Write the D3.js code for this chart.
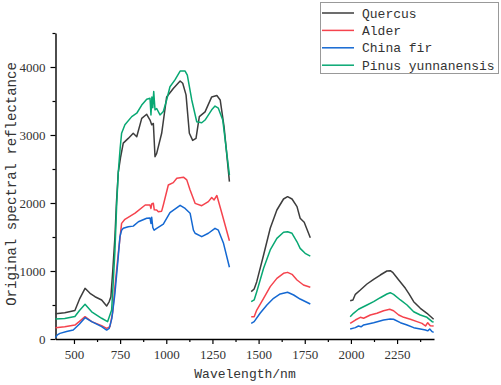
<!DOCTYPE html>
<html>
<head>
<meta charset="utf-8">
<script src="https://cdn.jsdelivr.net/npm/d3@7"></script>
<style>
  body { margin: 0; background: #fff; }
</style>
</head>
<body>
<div id="grafico"></div>
<script>
// series names, in legend order
const especies = ["Quercus", "Alder", "China fir", "Pinus yunnanensis"];

// each series is three segments (water bands removed), [wavelength nm, reflectance]
const quercus = [
  [[400,370],[450,387],[505,420],[532,598],[560,745],[587,672],[614,622],[650,574],[677,485],[691,550],[700,620],[710,1000],[722,1505],[730,2000],[740,2450],[753,2680],[767,2880],[794,2950],[821,3025],[840,2975],[867,3245],[894,3305],[912,3220],[921,3150],[930,3170],[939,2680],[948,2730],[975,3025],[1002,3560],[1038,3685],[1075,3795],[1089,3760],[1107,3590],[1125,3025],[1143,2920],[1161,2950],[1179,3270],[1210,3340],[1246,3560],[1274,3580],[1292,3515],[1313,3120],[1342,2315]],
  [[1460,696],[1476,735],[1490,843],[1527,1235],[1563,1628],[1599,1897],[1635,2059],[1657,2093],[1681,2059],[1708,1946],[1725,1775],[1747,1716],[1780,1490]],
  [[1996,563],[2011,574],[2024,657],[2051,720],[2087,809],[2123,878],[2159,941],[2195,1000],[2213,1005],[2228,975],[2259,868],[2295,745],[2313,672],[2340,549],[2376,451],[2412,378],[2448,290]]
];
const alder = [
  [[400,165],[450,180],[505,205],[530,260],[560,328],[596,255],[650,196],[677,157],[695,181],[710,400],[722,770],[740,1260],[758,1700],[776,1760],[831,1850],[886,1970],[912,1970],[917,1920],[922,1990],[930,1995],[935,1900],[948,1897],[957,1872],[975,1880],[984,1970],[1011,2265],[1038,2300],[1057,2365],[1093,2380],[1111,2340],[1129,2190],[1156,1995],[1192,1960],[1228,2020],[1246,2080],[1259,2045],[1274,2110],[1301,1850],[1342,1445]],
  [[1460,328],[1476,328],[1490,426],[1527,598],[1563,770],[1599,892],[1635,966],[1657,980],[1681,951],[1708,868],[1743,794],[1780,760]],
  [[1996,230],[2024,279],[2051,319],[2069,305],[2105,353],[2141,378],[2177,416],[2210,437],[2231,416],[2259,353],[2286,319],[2322,290],[2358,255],[2385,230],[2404,191],[2416,240],[2430,196],[2448,191]]
];
const chinaFir = [
  [[400,20],[410,60],[424,83],[460,110],[496,132],[530,220],[560,313],[596,255],[650,181],[677,132],[691,157],[705,300],[722,672],[740,1210],[749,1505],[758,1600],[767,1628],[794,1650],[821,1660],[849,1725],[894,1775],[912,1780],[917,1700],[921,1790],[927,1640],[934,1600],[948,1628],[984,1690],[1020,1860],[1075,1965],[1102,1920],[1129,1850],[1147,1600],[1156,1555],[1192,1505],[1228,1555],[1264,1628],[1282,1600],[1310,1407],[1342,1055]],
  [[1460,230],[1476,255],[1508,378],[1545,500],[1581,598],[1617,662],[1657,687],[1690,647],[1725,588],[1780,515]],
  [[1996,147],[2024,167],[2041,191],[2055,180],[2069,206],[2123,240],[2177,279],[2213,294],[2231,290],[2268,240],[2304,206],[2340,167],[2376,147],[2404,132],[2416,120],[2427,147],[2440,108],[2448,98]]
];
const pinus = [
  [[400,294],[450,300],[505,330],[530,420],[560,510],[596,400],[650,305],[682,255],[704,425],[712,800],[722,1300],[731,1950],[740,2450],[750,2800],[758,3025],[776,3150],[813,3270],[840,3320],[867,3440],[894,3525],[912,3540],[917,3295],[922,3560],[927,3400],[932,3640],[939,3370],[948,3390],[966,3295],[984,3345],[1002,3515],[1020,3710],[1047,3810],[1075,3940],[1102,3940],[1114,3880],[1138,3515],[1165,3195],[1192,3180],[1210,3220],[1246,3370],[1264,3425],[1282,3395],[1306,3220],[1342,2410]],
  [[1460,549],[1476,574],[1490,696],[1527,1040],[1563,1310],[1599,1480],[1635,1570],[1657,1578],[1681,1555],[1708,1430],[1725,1333],[1752,1260],[1780,1220]],
  [[1996,328],[2014,378],[2041,437],[2087,500],[2123,549],[2159,607],[2195,662],[2213,681],[2231,657],[2268,574],[2304,500],[2340,401],[2376,353],[2412,319],[2440,255],[2448,250]]
];

const xTicks = [500, 750, 1000, 1250, 1500, 1750, 2000, 2250];
const yTicks = [0, 1000, 2000, 3000, 4000];

const series = [quercus, alder, chinaFir, pinus];
const colores = ["#3d3d3d", "#f5434d", "#1468d2", "#08a873"];

const fuenteTexto = "'Liberation Mono', 'DejaVu Sans Mono', monospace";
const fuenteNum = "'Liberation Serif', 'DejaVu Serif', serif";

const margin = { top: 33, right: 67, bottom: 46, left: 55.5 };
const width = 501 - margin.left - margin.right;
const height = 385 - margin.top - margin.bottom;

const svg = d3.select("#grafico")
    .append("svg")
    .attr("width", 501)
    .attr("height", 385);

const g = svg.append("g")
    .attr("transform", `translate(${margin.left}, ${margin.top})`);

const x = d3.scaleLinear().domain([400, 2450]).range([0, width]);
const y = d3.scaleLinear().domain([0, 4500]).range([height, 0]);

// minor ticks first, then the labelled ones
g.append("g")
    .attr("transform", `translate(0, ${height})`)
    .call(d3.axisBottom(x).tickValues(d3.range(625, 2450, 250)).tickSize(3).tickFormat(""))
    .call(a => a.select(".domain").remove());
g.append("g")
    .call(d3.axisLeft(y).tickValues(d3.range(500, 4600, 1000)).tickSize(3).tickFormat(""))
    .call(a => a.select(".domain").remove());

const ejeX = g.append("g")
    .attr("transform", `translate(0, ${height})`)
    .call(d3.axisBottom(x).tickValues(xTicks).tickFormat(d3.format("d"))
        .tickSize(5).tickSizeOuter(0).tickPadding(6));
const ejeY = g.append("g")
    .call(d3.axisLeft(y).tickValues(yTicks).tickFormat(d3.format("d"))
        .tickSize(5).tickSizeOuter(0).tickPadding(5));

[ejeX, ejeY].forEach(eje => {
    eje.selectAll("text")
        .style("font-family", fuenteNum)
        .style("font-size", "13px")
        .attr("fill", "#333");
    eje.select(".domain").attr("stroke-width", 1.4);
});
g.selectAll(".tick line").attr("stroke-width", 1.2);

const linea = d3.line()
    .x(d => x(d[0]))
    .y(d => y(d[1]));

series.forEach((s, i) => {
    s.forEach(seg => {
        g.append("path")
            .datum(seg)
            .attr("fill", "none")
            .attr("stroke", colores[i])
            .attr("stroke-width", 1.5)
            .attr("stroke-linejoin", "round")
            .attr("d", linea);
    });
});

// axis titles
svg.append("text")
    .attr("x", 245)
    .attr("y", 378)
    .attr("text-anchor", "middle")
    .style("font-family", fuenteTexto)
    .style("font-size", "13px")
    .attr("fill", "#333")
    .text("Wavelength/nm");

svg.append("text")
    .attr("transform", "translate(16, 184) rotate(-90)")
    .attr("text-anchor", "middle")
    .style("font-family", fuenteTexto)
    .style("font-size", "14px")
    .attr("fill", "#333")
    .text("Original spectral reflectance");

// legend
const leyenda = svg.append("g");
leyenda.append("rect")
    .attr("x", 320.5).attr("y", 2.5)
    .attr("width", 178).attr("height", 71)
    .attr("fill", "#fff")
    .attr("stroke", "#999");

especies.forEach((nombre, i) => {
    const yy = 13 + i * 17.4;
    leyenda.append("line")
        .attr("x1", 322).attr("x2", 354)
        .attr("y1", yy).attr("y2", yy)
        .attr("stroke", colores[i])
        .attr("stroke-width", 1.5);
    leyenda.append("text")
        .attr("x", 362).attr("y", yy + 4.5)
        .style("font-family", fuenteTexto)
        .style("font-size", "13px")
        .attr("fill", "#333")
        .text(nombre);
});
</script>
</body>
</html>
